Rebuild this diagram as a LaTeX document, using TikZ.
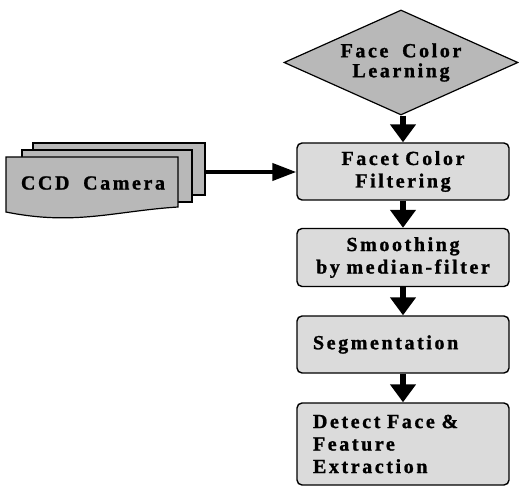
\documentclass[tikz,border=0pt]{standalone}
\usepackage{fontspec}
\usepackage{xcolor}
\usepackage{tikz}
\usetikzlibrary{arrows.meta,positioning,shapes.geometric}
\newfontfamily\lblfont[LetterSpace=13,WordSpace=1.8,BoldFeatures={FakeBold=1.2}]{Liberation Serif}
\definecolor{darkfill}{gray}{0.72}
\definecolor{lightfill}{gray}{0.86}
\tikzset{
  stepbox/.style={
    draw,
    line width=1.4pt,
    rounded corners=5pt,
    align=center,
    inner xsep=8pt,
    text width=196pt,
    fill=lightfill,
    font=\lblfont\bfseries\fontsize{20}{22.5}\selectfont
  },
  leftbox/.style={
    stepbox,
    align=left,
    inner xsep=16pt,
    text width=180pt
  },
  learnbox/.style={
    draw,
    diamond,
    aspect=2.25,
    line width=1.2pt,
    inner sep=0pt,
    minimum width=234pt,
    minimum height=105pt,
    align=center,
    fill=darkfill,
    font=\lblfont\bfseries\fontsize{20}{20}\selectfont
  },
  page/.style={draw, line width=1.2pt, fill=darkfill},
  flow/.style={draw, line width=6pt, -{Triangle[length=18pt,width=25pt]}},
  feed/.style={draw, line width=4pt, -{Triangle[length=24pt,width=17pt]}}
}

\begin{document}
\begin{tikzpicture}[x=1pt,y=-1pt]
  \useasboundingbox (0,0) rectangle (519,486);

  % camera pages, back to front
  \path[page] (33,143) rectangle (205,195);
  \path[page] (22,150) rectangle (192,202);
  \path[page] (6,157) -- (178,157) -- (178,207)
    .. controls (115,211) and (75,226) .. (6,212) -- cycle;
  \node[font=\lblfont\bfseries\fontsize{20}{20}\selectfont] (camera) at (93,183) {CCD Camera};
  \coordinate (camout) at (205,172);

  \node[learnbox] (learn) at (401,62.5) {Face Color\\Learning};
  \node[stepbox, minimum height=57pt] (filter) at (403,171.5) {Facet Color\\Filtering};
  \node[stepbox, minimum height=58pt] (smooth) at (403,257.5) {Smoothing\\by median-filter};
  \node[leftbox, minimum height=57pt] (segment) at (403,344.5) {Segmentation};
  \node[leftbox, minimum height=82pt] (detect) at (403,444) {Detect Face \&\\Feature\\Extraction};

  \draw[flow] (filter.north |- learn.south) -- (filter.north);
  \draw[flow] (filter) -- (smooth);
  \draw[flow] (smooth) -- (segment);
  \draw[flow] (segment) -- (detect);
  \draw[feed] (camout) -- (camout -| filter.west);
\end{tikzpicture}
\end{document}
